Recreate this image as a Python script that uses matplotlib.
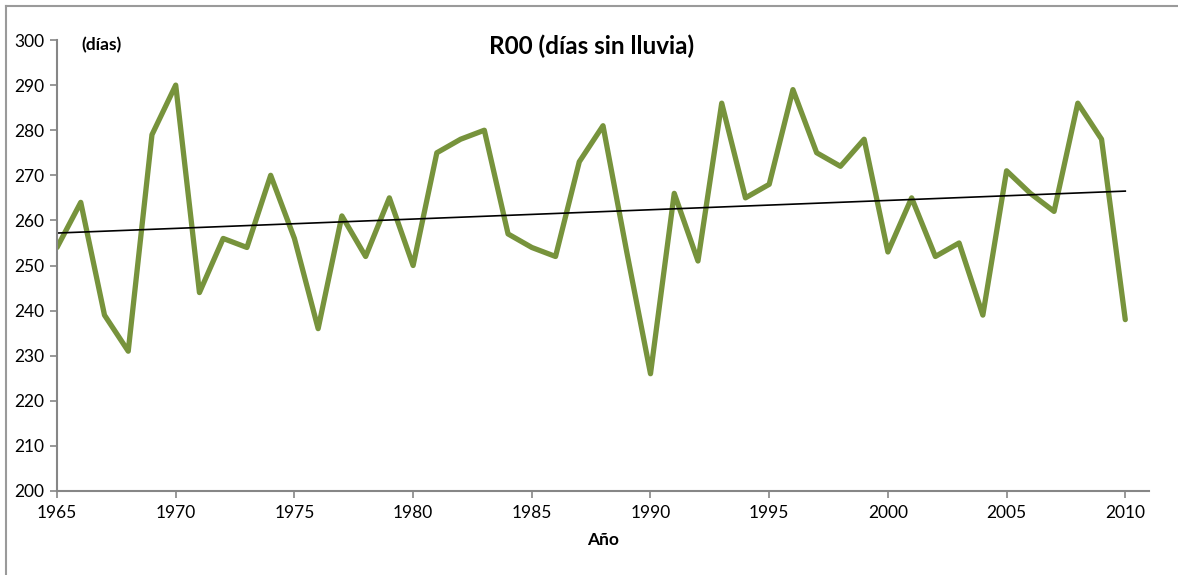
import matplotlib.pyplot as plt
import numpy as np
from matplotlib.lines import Line2D

# datos
years = list(range(1965, 2011))
r00 = [254, 264, 239, 231, 279, 290, 244, 256, 254, 270,
       256, 236, 261, 252, 265, 250, 275, 278, 280, 257,
       254, 252, 273, 281, 253, 226, 266, 251, 286, 265,
       268, 289, 275, 272, 278, 253, 265, 252, 255, 239,
       271, 266, 262, 286, 278, 238]

plt.rcParams['font.family'] = ['Lato', 'DejaVu Sans']

fig = plt.figure(figsize=(11.78, 5.75), dpi=100)
ax = fig.add_axes([0.0484, 0.1461, 0.9270, 0.7843])

x = np.array(years)
y = np.array(r00)
ax.plot(x, y, color='#77933C', linewidth=3.8, solid_joinstyle='round', solid_capstyle='round')

# tendencia lineal
a, b = np.polyfit(x, y, 1)
ax.plot(x, a * x + b, color='black', linewidth=1.2)

ax.set_xlim(1965, 2011)
ax.set_ylim(200, 300)
ax.set_xticks(range(1965, 2011, 5))
ax.set_yticks(range(200, 301, 10))
ax.tick_params(colors='#868686', labelcolor='black', labelsize=12.5, length=5, width=1.2)
ax.tick_params(axis='x', pad=5)
ax.tick_params(axis='y', pad=4)

for s in ['top', 'right']:
    ax.spines[s].set_visible(False)
for s in ['left', 'bottom']:
    ax.spines[s].set_color('#868686')
    ax.spines[s].set_linewidth(1.5)

ax.set_xlabel('Año', fontsize=12.5, fontweight='bold', labelpad=8)
fig.text(0.5025, 0.92, 'R00 (días sin lluvia)', ha='center', va='center', fontsize=17.5, fontweight='bold')
fig.text(0.086, 0.922, '(días)', ha='center', va='center', fontsize=12.5, fontweight='bold')

# marco del gráfico
fig.add_artist(Line2D([0.005, 1], [0.99, 0.99], transform=fig.transFigure, color='#9a9a9a', linewidth=1.5))
fig.add_artist(Line2D([0.005, 0.005], [0, 0.99], transform=fig.transFigure, color='#9a9a9a', linewidth=1.5))

fig.savefig('out.png', dpi=100)
